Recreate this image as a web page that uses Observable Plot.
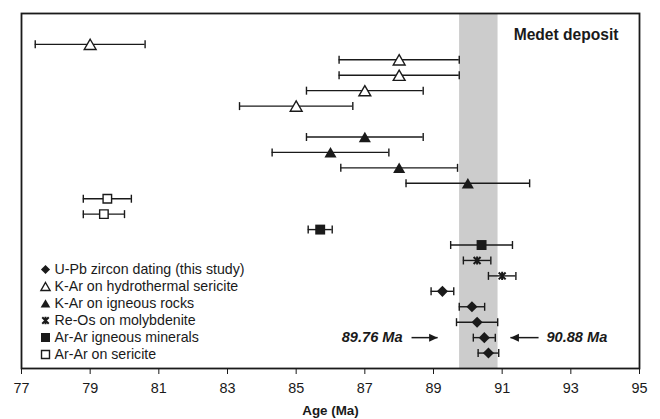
<!DOCTYPE html>
<html>
<head>
<meta charset="utf-8">
<script src="https://cdn.jsdelivr.net/npm/d3@7"></script>
<script src="https://cdn.jsdelivr.net/npm/@observablehq/plot@0.6"></script>
<style>
  body { margin: 0; background: #fff; }
</style>
</head>
<body>
<div id="chart"></div>
<script>
// Dating methods, in legend order
const methods = [
  "U-Pb zircon dating (this study)",
  "K-Ar on hydrothermal sericite",
  "K-Ar on igneous rocks",
  "Re-Os on molybdenite",
  "Ar-Ar igneous minerals",
  "Ar-Ar on sericite"
];

// Samples listed top to bottom: method index, age (Ma) and ± error (Ma)
const sampleMethod = [1, 1, 1, 1, 1, 2, 2, 2, 2, 5, 5, 4, 4, 3, 3, 0, 0, 0, 0, 0];
const sampleAge = [79.0, 88.0, 88.0, 87.0, 85.0, 87.0, 86.0, 88.0, 90.0, 79.5, 79.4, 85.7, 90.4, 90.27, 91.0, 89.26, 90.12, 90.27, 90.48, 90.6];
const sampleError = [1.6, 1.75, 1.75, 1.7, 1.65, 1.7, 1.7, 1.7, 1.8, 0.7, 0.6, 0.35, 0.9, 0.4, 0.4, 0.33, 0.37, 0.6, 0.32, 0.3];

const ageTicks = [77, 79, 81, 83, 85, 87, 89, 91, 93, 95];

// Mineralization age window
const windowMin = 89.76;
const windowMax = 90.88;

// Window annotations: label anchor, arrow tail and arrow tip (Ma)
const windowNotes = [
  {text: `${windowMin} Ma`, at: 88.1, tail: 88.36, tip: 89.12, anchor: "end"},
  {text: `${windowMax} Ma`, at: 92.29, tail: 92.06, tip: 91.24, anchor: "start"}
];

const ink = "#1a1a1a";
const font = "'Liberation Sans', Arial, Helvetica, sans-serif";

const samples = sampleAge.map((age, i) => ({
  id: "S" + (i + 1),
  m: sampleMethod[i],
  age,
  lo: age - sampleError[i],
  hi: age + sampleError[i]
}));

// Slot list for the vertical layout: one blank slot above, one between the sericite and igneous K-Ar groups
const yDomain = ["top", ...samples.slice(0, 5).map(d => d.id), "gap", ...samples.slice(5).map(d => d.id)];
const noteRow = samples[18].id;

// Custom symbols
const capSymbol = {draw(ctx) { ctx.moveTo(0, -4); ctx.lineTo(0, 4); }};
const reOsSymbol = {draw(ctx, size) {
  const r = Math.sqrt(size) * 0.5, a = r * 0.85;
  ctx.moveTo(0, -r); ctx.lineTo(0, r);
  ctx.moveTo(-a, -a); ctx.lineTo(a, a);
  ctx.moveTo(-a, a); ctx.lineTo(a, -a);
}};
const headRight = {draw(ctx) { ctx.moveTo(0, 0); ctx.lineTo(-8.5, -4); ctx.lineTo(-8.5, 4); ctx.closePath(); }};
const headLeft = {draw(ctx) { ctx.moveTo(0, 0); ctx.lineTo(8.5, -4); ctx.lineTo(8.5, 4); ctx.closePath(); }};

const markerStyle = [
  {symbol: "diamond2", r: 5.0, fill: ink},
  {symbol: "triangle", r: 4.4, fill: "white", stroke: ink, strokeWidth: 1.4, dy: 1.7},
  {symbol: "triangle", r: 4.5, fill: ink, dy: 1.7},
  {symbol: reOsSymbol, r: 4.6, fill: "none", stroke: ink, strokeWidth: 2},
  {symbol: "square", r: 5.6, fill: ink},
  {symbol: "square", r: 4.8, fill: "white", stroke: ink, strokeWidth: 1.4}
];

const legendStyle = [
  {symbol: "diamond2", r: 4.1, fill: ink},
  {symbol: "triangle", r: 3.4, fill: "white", stroke: ink, strokeWidth: 1.4, dy: 1.3},
  {symbol: "triangle", r: 3.6, fill: ink, dy: 1.3},
  {symbol: reOsSymbol, r: 4.3, fill: "none", stroke: ink, strokeWidth: 2},
  {symbol: "square", r: 5.1, fill: ink},
  {symbol: "square", r: 4.5, fill: "white", stroke: ink, strokeWidth: 1.4}
];

const legendMarks = methods.flatMap((name, k) => [
  Plot.dot([name], {frameAnchor: "top-left", dx: 24, ...legendStyle[k], dy: 256 + 17 * k + (legendStyle[k].dy || 0)}),
  Plot.text([name], {frameAnchor: "top-left", dx: 33, dy: 256 + 17 * k, text: d => d, textAnchor: "start", lineAnchor: "middle", fontSize: 14.2, fill: ink})
]);

const noteMarks = windowNotes.flatMap(n => [
  Plot.text([n], {x: "at", y: () => noteRow, text: "text", textAnchor: n.anchor, lineAnchor: "middle", fontSize: 14.6, fontWeight: "bold", fontStyle: "italic", fill: ink}),
  Plot.link([n], {x1: "tail", x2: "tip", y1: () => noteRow, y2: () => noteRow, stroke: ink, strokeWidth: 1.5}),
  Plot.dot([n], {x: "tip", y: () => noteRow, symbol: n.tip > n.tail ? headRight : headLeft, fill: ink, stroke: "none"})
]);

const chart = Plot.plot({
  width: 660,
  height: 419,
  marginLeft: 21,
  marginRight: 21,
  marginTop: 13,
  marginBottom: 51,
  style: {fontFamily: font, fontSize: "14.4px", color: ink, background: "white"},
  x: {domain: [77, 95]},
  y: {type: "point", domain: yDomain, padding: 1, round: false, axis: null},
  marks: [
    Plot.rect([{x1: windowMin, x2: windowMax}], {x1: "x1", x2: "x2", fill: "#cccccc"}),
    Plot.ruleY(samples, {y: "id", x1: "lo", x2: "hi", stroke: ink, strokeWidth: 1.4}),
    Plot.dot(samples, {x: "lo", y: "id", symbol: capSymbol, fill: "none", stroke: ink, strokeWidth: 1.4}),
    Plot.dot(samples, {x: "hi", y: "id", symbol: capSymbol, fill: "none", stroke: ink, strokeWidth: 1.4}),
    ...markerStyle.map((s, k) => Plot.dot(samples.filter(d => d.m === k), {x: "age", y: "id", ...s})),
    ...noteMarks,
    Plot.text(["Medet deposit"], {frameAnchor: "top-right", dx: -21, dy: 26, text: d => d, textAnchor: "end", lineAnchor: "bottom", fontSize: 15.6, fontWeight: "bold", fill: ink}),
    ...legendMarks,
    Plot.axisX({ticks: ageTicks, tickSize: 6, tickPadding: 8, fontSize: 14.4, label: null, stroke: ink}),
    Plot.text(["Age (Ma)"], {frameAnchor: "bottom", dy: 46, text: d => d, lineAnchor: "bottom", fontSize: 13.4, fontWeight: "bold", fill: ink}),
    Plot.frame({stroke: ink, strokeWidth: 1.8})
  ]
});

document.getElementById("chart").appendChild(chart);
</script>
</body>
</html>
